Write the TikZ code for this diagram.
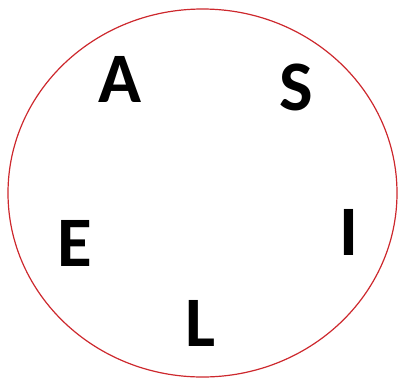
\documentclass[tikz,border=0pt]{standalone}
\usepackage{fontspec}
\setmainfont{Carlito}
\usetikzlibrary{shapes.geometric}
\definecolor{ringred}{RGB}{205,40,45}
\begin{document}
\begin{tikzpicture}[x=1pt,y=1pt,
  letter/.style={font=\fontsize{71}{71}\selectfont\bfseries, anchor=base, inner sep=0pt, text=black}]
\useasboundingbox (0,0) rectangle (398,-378);
\node[draw=ringred, line width=1.2pt, ellipse, minimum width=389pt, minimum height=368pt, inner sep=0pt] (ring) at (202.5,-193) {};
\node[letter] (A) at (120,-102) {A};
\node[letter] (S) at (296,-110) {S};
\node[letter] (E) at (75,-266) {E};
\node[letter] (I) at (349,-255) {I};
\node[letter] (L) at (201,-346) {L};
\end{tikzpicture}
\end{document}
